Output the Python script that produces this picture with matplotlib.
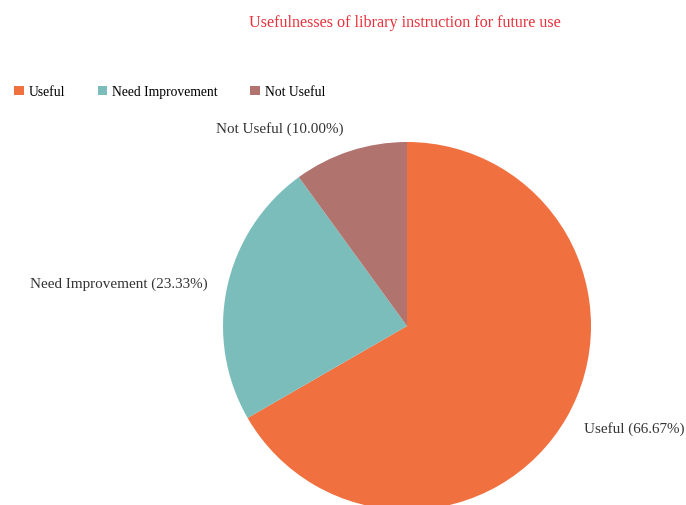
import matplotlib.pyplot as plt

# Dữ liệu
categories = ['Useful', 'Need Improvement', 'Not Useful']
values = [66.67, 23.33, 10.00]
colors = ['#F07040', '#7BBDBA', '#B0736E']

plt.rcParams['font.family'] = ['Liberation Serif', 'DejaVu Serif']

CX, CY, R = 407, 179, 184

fig = plt.figure(figsize=(6.86, 5.06), dpi=100)
ax = fig.add_axes([0, 0, 1, 1])

labels = [f'{c} ({v:.2f}%)' for c, v in zip(categories, values)]
wedges, texts = ax.pie(values, labels=labels, colors=colors, startangle=90,
                       counterclock=False, center=(CX, CY), radius=R,
                       labeldistance=1.11, frame=True,
                       textprops={'fontsize': 10.9, 'color': '#333333'})
# căn lề nhãn theo phía của tâm
for t in texts:
    x, y = t.get_position()
    t.set_ha('left' if x > CX else 'right')
    if y > CY + R:
        t.set_position((x, y + 4))
ax.set_xlim(0, 686)
ax.set_ylim(0, 506)
ax.axis('off')

fig.text(0.59, 0.955, 'Usefulnesses of library instruction for future use',
         ha='center', va='center', color='#E8303A', fontsize=11.6)

fig.legend(wedges, categories, loc='center left', bbox_to_anchor=(0.003, 0.817),
           ncol=3, frameon=False, fontsize=9.8, handlelength=0.7, handleheight=0.7,
           handletextpad=0.35, columnspacing=2.4)

plt.savefig('out.png', dpi=100)
